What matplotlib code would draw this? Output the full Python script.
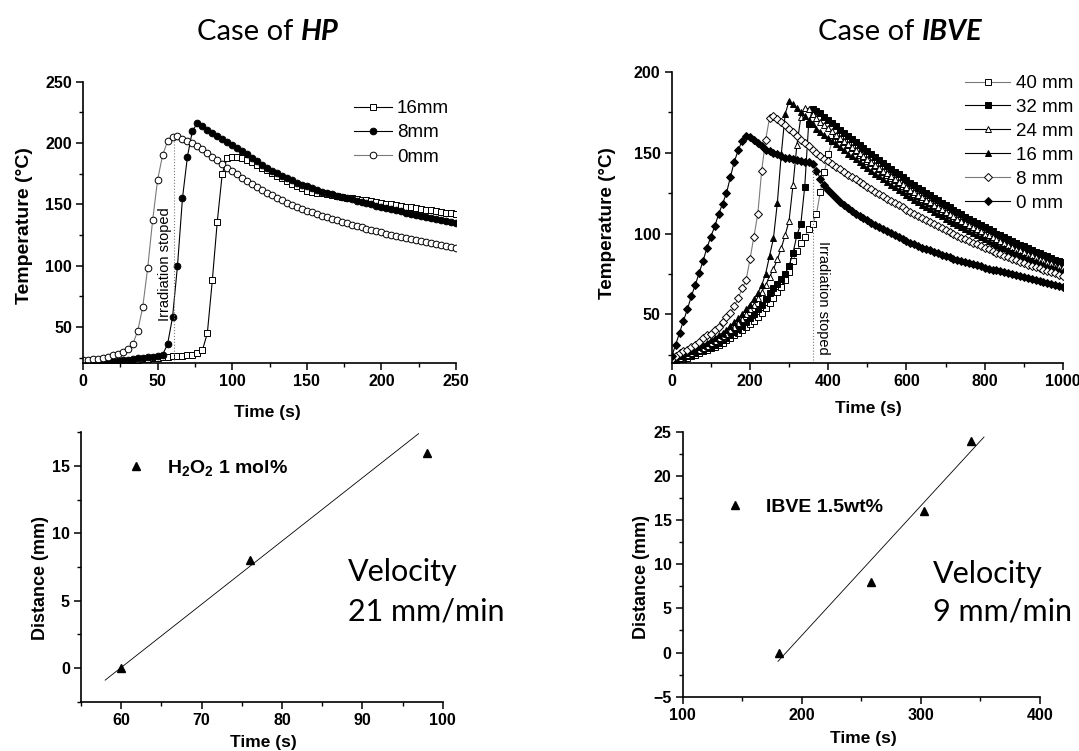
import numpy as np
import matplotlib
matplotlib.use("Agg")
import matplotlib.pyplot as plt
from matplotlib.ticker import MultipleLocator

plt.rcParams['font.family'] = ['Liberation Sans', 'DejaVu Sans']
plt.rcParams['mathtext.fontset'] = 'custom'
plt.rcParams['mathtext.bf'] = 'Liberation Sans:bold'
plt.rcParams['mathtext.rm'] = 'Liberation Sans'
plt.rcParams['mathtext.default'] = 'bf'

W, H = 1079, 751
GRAY = '#7a7a7a'
TITLE_FONT = 'Lato'

# ---------------- data: HP (temperature vs time) ----------------
hp_time = np.linspace(0, 250, 76)
hp_labels = ['16mm', '8mm', '0mm']
hp_16mm = [18, 18.5, 19, 19.5, 20, 20.5, 21, 21.5, 22, 22.5,
           23, 23.5, 24, 24.4, 24.8, 25.2, 25.5, 25.8, 26.1, 26.4,
           26.7, 27, 27.5, 28.5, 31, 45, 88, 136, 175, 188,
           188.5, 188.5, 188, 186.5, 184.5, 182.3, 180, 177.8, 175.6, 173.4,
           171.2, 169.1, 167, 165, 163, 161, 160.3, 159.6, 158.9, 158.2,
           157.5, 156.8, 156.2, 155.6, 155, 154.4, 153.8, 153.2, 152.6, 152,
           151.2, 150.6, 150, 149.4, 148.8, 148.2, 147.6, 147, 146.4, 145.8,
           145.2, 144.6, 144, 143.3, 142.6, 142]
hp_8mm = [19, 19.5, 20, 20.5, 21, 21.5, 22, 22.5, 23, 23.5,
          24, 24.5, 25, 25.5, 26, 26.5, 27.5, 36, 58, 100,
          155, 189, 210, 216, 213.5, 211, 208.5, 206, 203.5, 201,
          198.5, 196, 193.5, 191, 188, 185, 182.5, 180, 177.5, 175.5,
          173.5, 171.5, 169.5, 167.8, 166.2, 164.6, 163.2, 161.8, 160.5, 159.3,
          158.2, 157.1, 156, 155, 154, 153, 152, 151, 150, 149,
          148, 147, 146.1, 145.2, 144.3, 143.4, 142.5, 141.6, 140.7, 139.8,
          139, 138.2, 137.3, 136.4, 135.5, 134.5]
hp_0mm = [23.5, 23.6, 23.8, 24.2, 24.8, 25.7, 26.9, 28.3, 30.0, 32.2,
          36.0, 47, 66, 98, 137, 170, 190, 201.5, 205, 205.5,
          203.5, 202, 200, 197.5, 195, 192, 189, 186, 183, 180,
          177.5, 174.5, 171.5, 169, 166.5, 164, 161.5, 159.5, 157.5, 155.5,
          153.5, 151.5, 149.5, 148, 146.5, 145, 143.6, 142.2, 140.8, 139.5,
          138.2, 137, 135.8, 134.6, 133.5, 132.4, 131.3, 130.2, 129.2, 128.2,
          127.2, 126.2, 125.3, 124.4, 123.5, 122.6, 121.7, 120.9, 120.1, 119.3,
          118.5, 117.7, 116.9, 116.1, 115.3, 114.5]
hp_stop_time = 61

# ---------------- data: IBVE (temperature vs time) ----------------
ibve_time = np.arange(0, 1001, 10)
ibve_labels = ['40 mm', '32 mm', '24 mm', '16 mm', '8 mm', '0 mm']
ibve_40mm = [21, 21.5, 22, 22.5, 23, 24, 25, 26, 27, 28,
             29, 30, 31, 32.5, 34, 35.5, 37, 38.5, 40, 42,
             44, 46, 48.5, 51, 54, 57, 60, 63.5, 67, 71,
             76, 83, 89, 94, 98, 102.5, 106, 112, 126, 138,
             149, 157, 160.4,
             158.5, 156.5, 154.5, 152.7, 150.8, 148.9, 147.1, 145.2, 143.4, 141.6,
             139.8, 138.0, 136.4, 134.6, 132.9, 131.3, 129.6, 128.0, 126.3, 124.7,
             123.2, 121.6, 120.0, 118.6, 117.0, 115.5, 114.1, 112.6, 111.2, 109.8,
             108.4, 107.0, 105.7, 104.3, 103.0, 101.8, 100.5, 99.2, 98.0, 96.8,
             95.5, 94.4, 93.2, 92.1, 91.0, 89.9, 88.8, 87.8, 86.7, 85.6,
             84.7, 83.7, 82.7, 81.8, 80.9, 79.9, 79.1, 78.2]
ibve_32mm = [22, 22.5, 23, 23.5, 24, 25, 26, 27, 28, 29,
             30, 31, 32.5, 34, 35.5, 37, 39, 41, 43, 45,
             47.5, 50, 53, 56, 59.5, 63, 66, 69, 72, 75,
             80, 88, 99, 106, 129, 168, 177, 176, 174.5,
             172.4, 170.4, 168.3, 166.3, 164.3, 162.3, 160.3, 158.4, 156.5, 154.6,
             152.7, 150.8, 149.0, 147.1, 145.3, 143.5, 141.8, 140.0, 138.3, 136.6,
             134.9, 133.2, 131.5, 129.9, 128.3, 126.7, 125.1, 123.6, 122.0, 120.5,
             119.0, 117.5, 116.1, 114.6, 113.2, 111.8, 110.4, 109.0, 107.7, 106.4,
             105.1, 103.8, 102.5, 101.3, 100.0, 98.8, 97.6, 96.5, 95.3, 94.2,
             93.1, 92.0, 90.9, 89.8, 88.8, 87.8, 86.8, 85.8, 84.9, 83.9,
             83.0, 82.1]
ibve_24mm = [22, 22.5, 23, 24, 25, 26, 27, 28, 29, 30.5,
             32, 33.5, 35, 36.5, 38, 40, 42, 44.5, 47, 50,
             53, 56, 60, 64, 68, 73, 78, 84, 91, 99,
             108, 130, 155, 172, 178, 177, 174, 171.5, 169.3,
             167.2, 165.3, 163.2, 161.2, 159.3, 157.3, 155.3, 153.5, 151.6, 149.7,
             147.9, 146.0, 144.2, 142.4, 140.6, 138.8, 137.2, 135.4, 133.7, 132.1,
             130.4, 128.8, 127.1, 125.5, 124.0, 122.4, 120.8, 119.4, 117.8, 116.3,
             114.9, 113.4, 112.0, 110.6, 109.2, 107.8, 106.5, 105.1, 103.8, 102.6,
             101.3, 100.0, 98.8, 97.6, 96.3, 95.2, 94.0, 92.9, 91.8, 90.7,
             89.6, 88.6, 87.5, 86.4, 85.5, 84.5, 83.5, 82.6, 81.7, 80.7,
             79.9, 79.0]
ibve_16mm = [22, 23, 24, 25, 26, 27, 28, 29.5, 31, 32.5,
             34, 35.5, 37, 38.5, 40.5, 43, 45, 47.5, 50, 53,
             56, 59.5, 63, 68, 75, 86, 97, 119, 149, 174,
             182, 180, 177.5, 175, 172.5, 170, 167.5, 165, 163,
             161.0, 159.1, 157.1, 155.2, 153.3, 151.4, 149.5, 147.7, 145.9, 144.1,
             142.3, 140.5, 138.8, 137.0, 135.3, 133.6, 132.0, 130.3, 128.7, 127.1,
             125.5, 123.9, 122.3, 120.8, 119.3, 117.8, 116.3, 114.9, 113.4, 112.0,
             110.6, 109.2, 107.9, 106.5, 105.2, 103.9, 102.6, 101.3, 100.1, 98.9,
             97.7, 96.5, 95.3, 94.2, 93.0, 91.9, 90.8, 89.8, 88.7, 87.7,
             86.7, 85.7, 84.7, 83.7, 82.8, 81.9, 81.0, 80.1, 79.3, 78.4,
             77.6, 76.8]
ibve_8mm = [22, 24, 26, 27, 28, 30, 31, 33, 35, 37,
            38, 40, 42, 45, 48, 51, 55, 60, 66, 71,
            84, 98, 112, 139, 158, 171.5, 173, 171, 169, 167,
            165, 163, 160.5, 158, 156, 154, 152, 150, 148,
            146.3, 144.7, 143.0, 141.4, 139.8, 138.1, 136.5, 135.0, 133.5, 131.9,
            130.4, 128.9, 127.4, 125.9, 124.4, 123.0, 121.6, 120.2, 118.8, 117.4,
            116.1, 114.7, 113.3, 112.0, 110.7, 109.5, 108.2, 107.0, 105.7, 104.5,
            103.3, 102.1, 101.0, 99.7, 98.6, 97.5, 96.4, 95.3, 94.2, 93.2,
            92.1, 91.1, 90.1, 89.1, 88.1, 87.1, 86.1, 85.3, 84.3, 83.5,
            82.6, 81.7, 80.8, 79.9, 79.2, 78.4, 77.6, 76.8, 76.1, 75.3,
            74.6, 73.9]
ibve_0mm = [24, 31, 38.5, 46, 53, 61, 68, 75.5, 83, 91,
            98, 104.5, 112, 118.5, 125, 135, 144.5, 151.5, 157.5, 160.5,
            160, 158, 156, 154, 152, 151, 150, 149, 148, 147,
            146.5, 146, 145.5, 145, 144.5, 144, 143, 139, 134, 130,
            127,
            124.5, 122, 119.8, 117.7, 115.7, 113.8, 112.2, 110.8, 109.5, 108.2,
            106.8, 105.4, 104, 102.7, 101.4, 100.1, 98.9, 97.7, 96.5, 95.3,
            94.3, 93.3, 92.3, 91.3, 90.4, 89.5, 88.6, 87.7, 86.8, 86,
            85.2, 84.5, 83.8, 83.1, 82.4, 81.7, 81, 80.3, 79.6, 78.9,
            78.3, 77.7, 77.1, 76.5, 75.9, 75.3, 74.7, 74.1, 73.5, 72.9,
            72.3, 71.7, 71.1, 70.5, 69.9, 69.3, 68.7, 68.1, 67.5, 66.9]
ibve_stop_time = 360

# ---------------- data: front position vs time ----------------
hp_front_time = [60, 76, 98]
hp_front_dist = [0, 8, 16]
hp_fit_time = [58, 97]
hp_fit_dist = [-0.9, 17.4]

ibve_front_time = [181, 258, 303, 342]
ibve_front_dist = [0, 8, 16, 24]
ibve_fit_time = [180, 353]
ibve_fit_dist = [-1.0, 24.4]


def px(x, y):
    return x / W, 1 - y / H


def make_axes(left, top, right, bottom):
    return fig.add_axes([left / W, 1 - bottom / H, (right - left) / W, (bottom - top) / H])


def style_axes(ax, xmaj, xmin, ymaj, ymin):
    for side in ['top', 'right']:
        ax.spines[side].set_visible(False)
    for side in ['left', 'bottom']:
        ax.spines[side].set_linewidth(1.2)
    ax.xaxis.set_major_locator(MultipleLocator(xmaj))
    ax.xaxis.set_minor_locator(MultipleLocator(xmin))
    ax.yaxis.set_major_locator(MultipleLocator(ymaj))
    ax.yaxis.set_minor_locator(MultipleLocator(ymin))
    ax.tick_params(which='major', direction='out', length=5, width=1.1, labelsize=11.5, pad=3)
    ax.tick_params(which='minor', direction='out', length=3, width=1.0)
    for lab in ax.get_xticklabels() + ax.get_yticklabels():
        lab.set_fontweight('bold')


def place_labels(ax, xlab, ylab, xpos, ypos, ysize):
    ax.set_xlabel(xlab, fontsize=12.5, fontweight='bold')
    ax.set_ylabel(ylab, fontsize=ysize, fontweight='bold')
    ax.xaxis.set_label_coords(*xpos)
    ax.yaxis.set_label_coords(*ypos)
    ax.xaxis.label.set_va('center')
    ax.yaxis.label.set_va('center')


fig = plt.figure(figsize=(W / 100, H / 100), dpi=100)

# ---------- top left: HP temperature ----------
ax1 = make_axes(83, 81.7, 456, 362.7)
ax1.plot(hp_time, hp_16mm, color='black', lw=0.8, marker='s', ms=4.5,
         mfc='white', mec='black', mew=0.7, label=hp_labels[0])
ax1.plot(hp_time, hp_8mm, color='black', lw=0.8, marker='o', ms=4.8,
         mfc='black', mec='black', mew=0.7, label=hp_labels[1])
ax1.plot(hp_time, hp_0mm, color=GRAY, lw=0.8, marker='o', ms=4.8,
         mfc='white', mec='black', mew=0.7, label=hp_labels[2])
ax1.plot([hp_stop_time, hp_stop_time], [21, 205], color=GRAY, lw=0.8, ls=':')
ax1.text(55, 101, 'Irradiation stoped', rotation=90, ha='center', va='center', fontsize=10.5)
ax1.set_xlim(0, 250)
ax1.set_ylim(21, 250)
style_axes(ax1, 50, 25, 50, 25)
place_labels(ax1, 'Time (s)', 'Temperature (°C)',
             ((267 - 83) / 373, (362.7 - 413) / 281), ((25 - 83) / 373, (362.7 - 226) / 281), 14)
ax1.legend(loc='upper left', bbox_to_anchor=px(354, 100), bbox_transform=fig.transFigure,
           frameon=False, fontsize=13.5, handlelength=2.0, handletextpad=0.3,
           labelspacing=0.38, borderpad=0, borderaxespad=0, numpoints=1)

# ---------- top right: IBVE temperature ----------
ax2 = make_axes(671.7, 72, 1063, 362.7)
ibve_series = [ibve_40mm, ibve_32mm, ibve_24mm, ibve_16mm, ibve_8mm, ibve_0mm]
ibve_markers = ['s', 's', '^', '^', 'D', 'D']
ibve_fill = ['white', 'black', 'white', 'black', 'white', 'black']
ibve_line = [GRAY, 'black', 'black', 'black', GRAY, 'black']
ibve_ms = [4.2, 4.2, 4.8, 4.8, 4.2, 4.4]
for vals, mk, fc, lc, ms, lab in zip(ibve_series, ibve_markers, ibve_fill, ibve_line, ibve_ms, ibve_labels):
    ax2.plot(ibve_time, vals, color=lc, lw=0.8, marker=mk, ms=ms,
             mfc=fc, mec='black', mew=0.7, label=lab)
ax2.plot([ibve_stop_time, ibve_stop_time], [20, 141], color=GRAY, lw=0.8, ls=':')
ax2.text(387, 60, 'Irradiation stoped', rotation=270, ha='center', va='center', fontsize=10.5)
ax2.set_xlim(0, 1000)
ax2.set_ylim(20, 200)
style_axes(ax2, 200, 100, 50, 25)
place_labels(ax2, 'Time (s)', 'Temperature (°C)',
             ((868 - 671.7) / 391.3, (362.7 - 409) / 290.7), ((608 - 671.7) / 391.3, (362.7 - 223) / 290.7), 13.6)
ax2.legend(loc='upper left', bbox_to_anchor=px(965, 75), bbox_transform=fig.transFigure,
           frameon=False, fontsize=13.5, handlelength=2.4, handletextpad=0.3,
           labelspacing=0.36, borderpad=0, borderaxespad=0, numpoints=1)

# ---------- bottom left: HP front distance ----------
ax3 = make_axes(81, 432.3, 442.7, 701.7)
ax3.plot(hp_front_time, hp_front_dist, ls='none', marker='^', ms=6, color='black',
         label='H$_2$O$_2$ 1 mol%')
ax3.plot(hp_fit_time, hp_fit_dist, color='black', lw=0.6)
ax3.set_xlim(55, 100)
ax3.set_ylim(-2.5, 17.5)
style_axes(ax3, 10, 5, 5, 2.5)
place_labels(ax3, 'Time (s)', 'Distance (mm)',
             ((263 - 81) / 361.7, (701.7 - 742) / 269.4), ((40 - 81) / 361.7, (701.7 - 578) / 269.4), 13)
handles, labels = ax3.get_legend_handles_labels()
ax3.legend(handles[:1], labels[:1], loc='center left', bbox_to_anchor=px(126, 468),
           bbox_transform=fig.transFigure, frameon=False,
           prop={'size': 14, 'weight': 'bold'}, handlelength=1.0, handletextpad=1.1,
           borderpad=0, borderaxespad=0, numpoints=1)

# ---------- bottom right: IBVE front distance ----------
ax4 = make_axes(682.7, 431.7, 1040, 696.7)
ax4.plot(ibve_front_time, ibve_front_dist, ls='none', marker='^', ms=6, color='black',
         label='IBVE 1.5wt%')
ax4.plot(ibve_fit_time, ibve_fit_dist, color='black', lw=0.6)
ax4.set_xlim(100, 400)
ax4.set_ylim(-5, 25)
style_axes(ax4, 100, 50, 5, 2.5)
place_labels(ax4, 'Time (s)', 'Distance (mm)',
             ((863 - 682.7) / 357.3, (696.7 - 738) / 265), ((642 - 682.7) / 357.3, (696.7 - 577) / 265), 13)
handles, labels = ax4.get_legend_handles_labels()
ax4.legend(handles[:1], labels[:1], loc='center left', bbox_to_anchor=px(725, 507),
           bbox_transform=fig.transFigure, frameon=False,
           prop={'size': 14, 'weight': 'bold'}, handlelength=1.0, handletextpad=1.1,
           borderpad=0, borderaxespad=0, numpoints=1)

# ---------- titles and velocity notes ----------
fig.text(*px(293, 40), 'Case of', family=TITLE_FONT, fontsize=21, ha='right', va='baseline')
fig.text(*px(301, 40), 'HP', family=TITLE_FONT, fontsize=21, fontweight='bold',
         style='italic', ha='left', va='baseline')
fig.text(*px(914, 40), 'Case of', family=TITLE_FONT, fontsize=21, ha='right', va='baseline')
fig.text(*px(922, 40), 'IBVE', family=TITLE_FONT, fontsize=21, fontweight='bold',
         style='italic', ha='left', va='baseline')

fig.text(*px(348, 581), 'Velocity', family=TITLE_FONT, fontsize=22, ha='left', va='baseline')
fig.text(*px(348, 621), '21 mm/min', family=TITLE_FONT, fontsize=22, ha='left', va='baseline')
fig.text(*px(933, 583), 'Velocity', family=TITLE_FONT, fontsize=22, ha='left', va='baseline')
fig.text(*px(933, 620), '9 mm/min', family=TITLE_FONT, fontsize=22, ha='left', va='baseline')

fig.savefig('out.png', dpi=100)
